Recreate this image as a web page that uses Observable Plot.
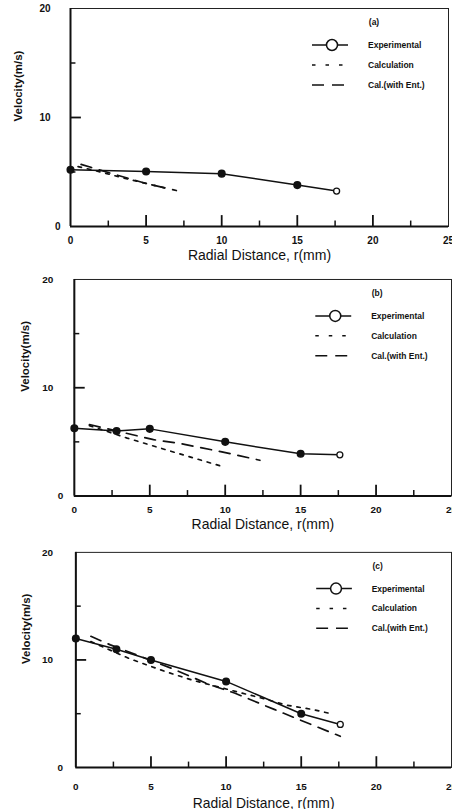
<!DOCTYPE html>
<html><head><meta charset="utf-8">
<script src="https://cdn.jsdelivr.net/npm/d3@7"></script>
<script src="https://cdn.jsdelivr.net/npm/@observablehq/plot@0.6"></script>
<style>
html,body{margin:0;padding:0;background:#fff;overflow:hidden;width:452px;height:809px}
#chart svg{display:block;overflow:visible}
</style>
</head><body><div id="chart"></div>
<script>
// ---- data ----
const xTicks = [0, 5, 10, 15, 20, 25];
const xMajorInner = [5, 10, 15, 20];
const xMinor = [2.5, 7.5, 12.5, 17.5, 22.5];
const yTicks = [10, 20];
const yZero = [0];
const yMajorInner = [10];
const yMinor = [5, 15];
const legendLabels = ["Experimental", "Calculation", "Cal.(with Ent.)"];
const panelTags = ["(a)", "(b)", "(c)"];
const xLabel = "Radial Distance, r(mm)";
const yLabel = "Velocity(m/s)";

// panel (a)
const expRa = [0, 5, 10, 15, 17.6];
const expVa = [5.2, 5.05, 4.85, 3.8, 3.25];
const calRa = [0.5, 2, 3.5, 5, 6.5];
const calVa = [5.5, 5.0, 4.45, 3.95, 3.45];
const entRa = [0.7, 2.5, 5, 7];
const entVa = [5.7, 4.95, 3.95, 3.3];

// panel (b)
const expRb = [0, 2.8, 5, 10, 15, 17.6];
const expVb = [6.25, 6.0, 6.2, 5.0, 3.9, 3.8];
const calRb = [1, 3.5, 6, 10];
const calVb = [6.5, 5.35, 4.3, 2.65];
const entRb = [1, 5.25, 7, 9.7, 12.3];
const entVb = [6.6, 5.2, 4.85, 4.1, 3.3];

// panel (c)
const expRc = [0, 2.7, 5, 10, 15, 17.6];
const expVc = [12.0, 11.0, 10.0, 8.0, 5.0, 4.0];
const calRc = [1, 3.6, 6, 7.8, 10, 12.5, 14, 15.7, 17];
const calVc = [11.7, 10.1, 8.9, 8.1, 7.3, 6.4, 5.8, 5.4, 5.0];
const entRc = [1, 2.3, 6.4, 8.9, 10.6, 13.2, 14.6, 17.6];
const entVc = [12.2, 11.4, 9.2, 7.7, 6.9, 5.4, 4.6, 2.9];

const FONT = "'Liberation Sans', Arial, Helvetica, sans-serif";
const zip = (R, V) => R.map((r, i) => ({r, v: V[i], last: i === R.length - 1}));

function panel(k, exR, exV, caR, caV, enR, enV, L) {
  const ex = zip(exR, exV), ca = zip(caR, caV), en = zip(enR, enV);
  // inward tick lengths expressed in data units (≈11 px major, ≈5 px minor)
  const tY = 1.0, tX = 0.72;
  const plot = Plot.plot({
    width: L.width, height: L.height,
    marginLeft: L.ml, marginRight: L.mr, marginTop: L.mt, marginBottom: L.mb,
    style: {fontFamily: FONT, background: "#fff", overflow: "visible", color: "#111"},
    x: {domain: [0, 25]},
    y: {domain: [0, 20]},
    marks: [
      Plot.frame({stroke: "#222", strokeWidth: 1}),
      Plot.ruleX([0], {stroke: "#111", strokeWidth: 2}),
      Plot.ruleY([0], {stroke: "#111", strokeWidth: 2}),
      // tick labels
      Plot.axisX({ticks: xTicks, tickSize: 0, tickPadding: L.xpad, fontSize: 10, fontWeight: "bold", label: null}),
      Plot.axisY({ticks: yTicks, tickSize: 0, tickPadding: L.ypad, fontSize: 10, fontWeight: "bold", label: null}),
      Plot.axisY({ticks: yZero, tickSize: 0, tickPadding: L.ypad0, fontSize: 10, fontWeight: "bold", label: null}),
      // inward tick marks
      Plot.ruleX(xMajorInner, {x: d => d, y1: 0, y2: tY, stroke: "#111", strokeWidth: 1.8}),
      Plot.ruleX(xMinor, {x: d => d, y1: 0, y2: tY / 2, stroke: "#111", strokeWidth: 1.5}),
      Plot.ruleY(yMajorInner, {y: d => d, x1: 0, x2: tX, stroke: "#111", strokeWidth: 1.8}),
      Plot.ruleY(yMinor, {y: d => d, x1: 0, x2: tX / 2, stroke: "#111", strokeWidth: 1.5}),
      // axis titles
      Plot.text([xLabel], {frameAnchor: "bottom", dy: L.xl, text: d => d, fontSize: 14, lineAnchor: "middle", fill: "#111"}),
      Plot.text([yLabel], {frameAnchor: "left", dx: L.yl, dy: 4, rotate: -90, text: d => d, fontSize: 11.5, fontWeight: "bold", lineAnchor: "middle", fill: "#111"}),
      // series
      Plot.line(ca, {x: "r", y: "v", stroke: "#111", strokeWidth: 1.7, strokeDasharray: "3.5,6"}),
      Plot.line(en, {x: "r", y: "v", stroke: "#111", strokeWidth: 1.7, strokeDasharray: "11,8"}),
      Plot.line(ex, {x: "r", y: "v", stroke: "#111", strokeWidth: 1.5}),
      Plot.dot(ex.filter(d => !d.last), {x: "r", y: "v", r: 3.3, fill: "#111", stroke: "#111"}),
      Plot.dot(ex.filter(d => d.last), {x: "r", y: "v", r: 3, fill: "#fff", stroke: "#111", strokeWidth: 1.3})
    ]
  });
  // in-frame legend, positioned from the frame's top-right corner
  const R = L.width - L.mr, T = L.mt;
  const g = d3.select(plot).append("g")
    .attr("font-family", FONT).attr("font-weight", "bold").attr("font-size", 8.5).attr("fill", "#111");
  g.append("text").attr("x", R - 74).attr("y", T + 14).attr("dy", "0.35em").attr("text-anchor", "middle").text(panelTags[k]);
  const rows = [T + 37, T + 57, T + 77];
  const dashes = [null, "3.5,10", "12,8"];
  rows.forEach((y, i) => {
    g.append("line").attr("x1", R - 136).attr("x2", R - 100).attr("y1", y).attr("y2", y)
      .attr("stroke", "#111").attr("stroke-width", 1.5).attr("stroke-dasharray", dashes[i]);
    g.append("text").attr("x", R - 80).attr("y", y).attr("dy", "0.35em").attr("text-anchor", "start").text(legendLabels[i]);
  });
  g.append("circle").attr("cx", R - 116).attr("cy", rows[0]).attr("r", 5.5)
    .attr("fill", "#fff").attr("stroke", "#111").attr("stroke-width", 1.5);
  return plot;
}

const chart = document.getElementById("chart");
chart.append(panel(0, expRa, expVa, calRa, calVa, entRa, entVa,
  {width: 452, height: 270, ml: 70, mr: 4, mt: 8, mb: 44, xpad: 10, ypad: 20, ypad0: 10, xl: 29, yl: -52}));
chart.append(panel(1, expRb, expVb, calRb, calVb, entRb, entVb,
  {width: 453, height: 270, ml: 74, mr: 1, mt: 9, mb: 44, xpad: 10, ypad: 21, ypad0: 11, xl: 29, yl: -49}));
chart.append(panel(2, expRc, expVc, calRc, calVc, entRc, entVc,
  {width: 456, height: 269, ml: 76, mr: 1, mt: 13, mb: 39, xpad: 16, ypad: 23, ypad0: 13, xl: 36, yl: -50}));
</script>
</body></html>
